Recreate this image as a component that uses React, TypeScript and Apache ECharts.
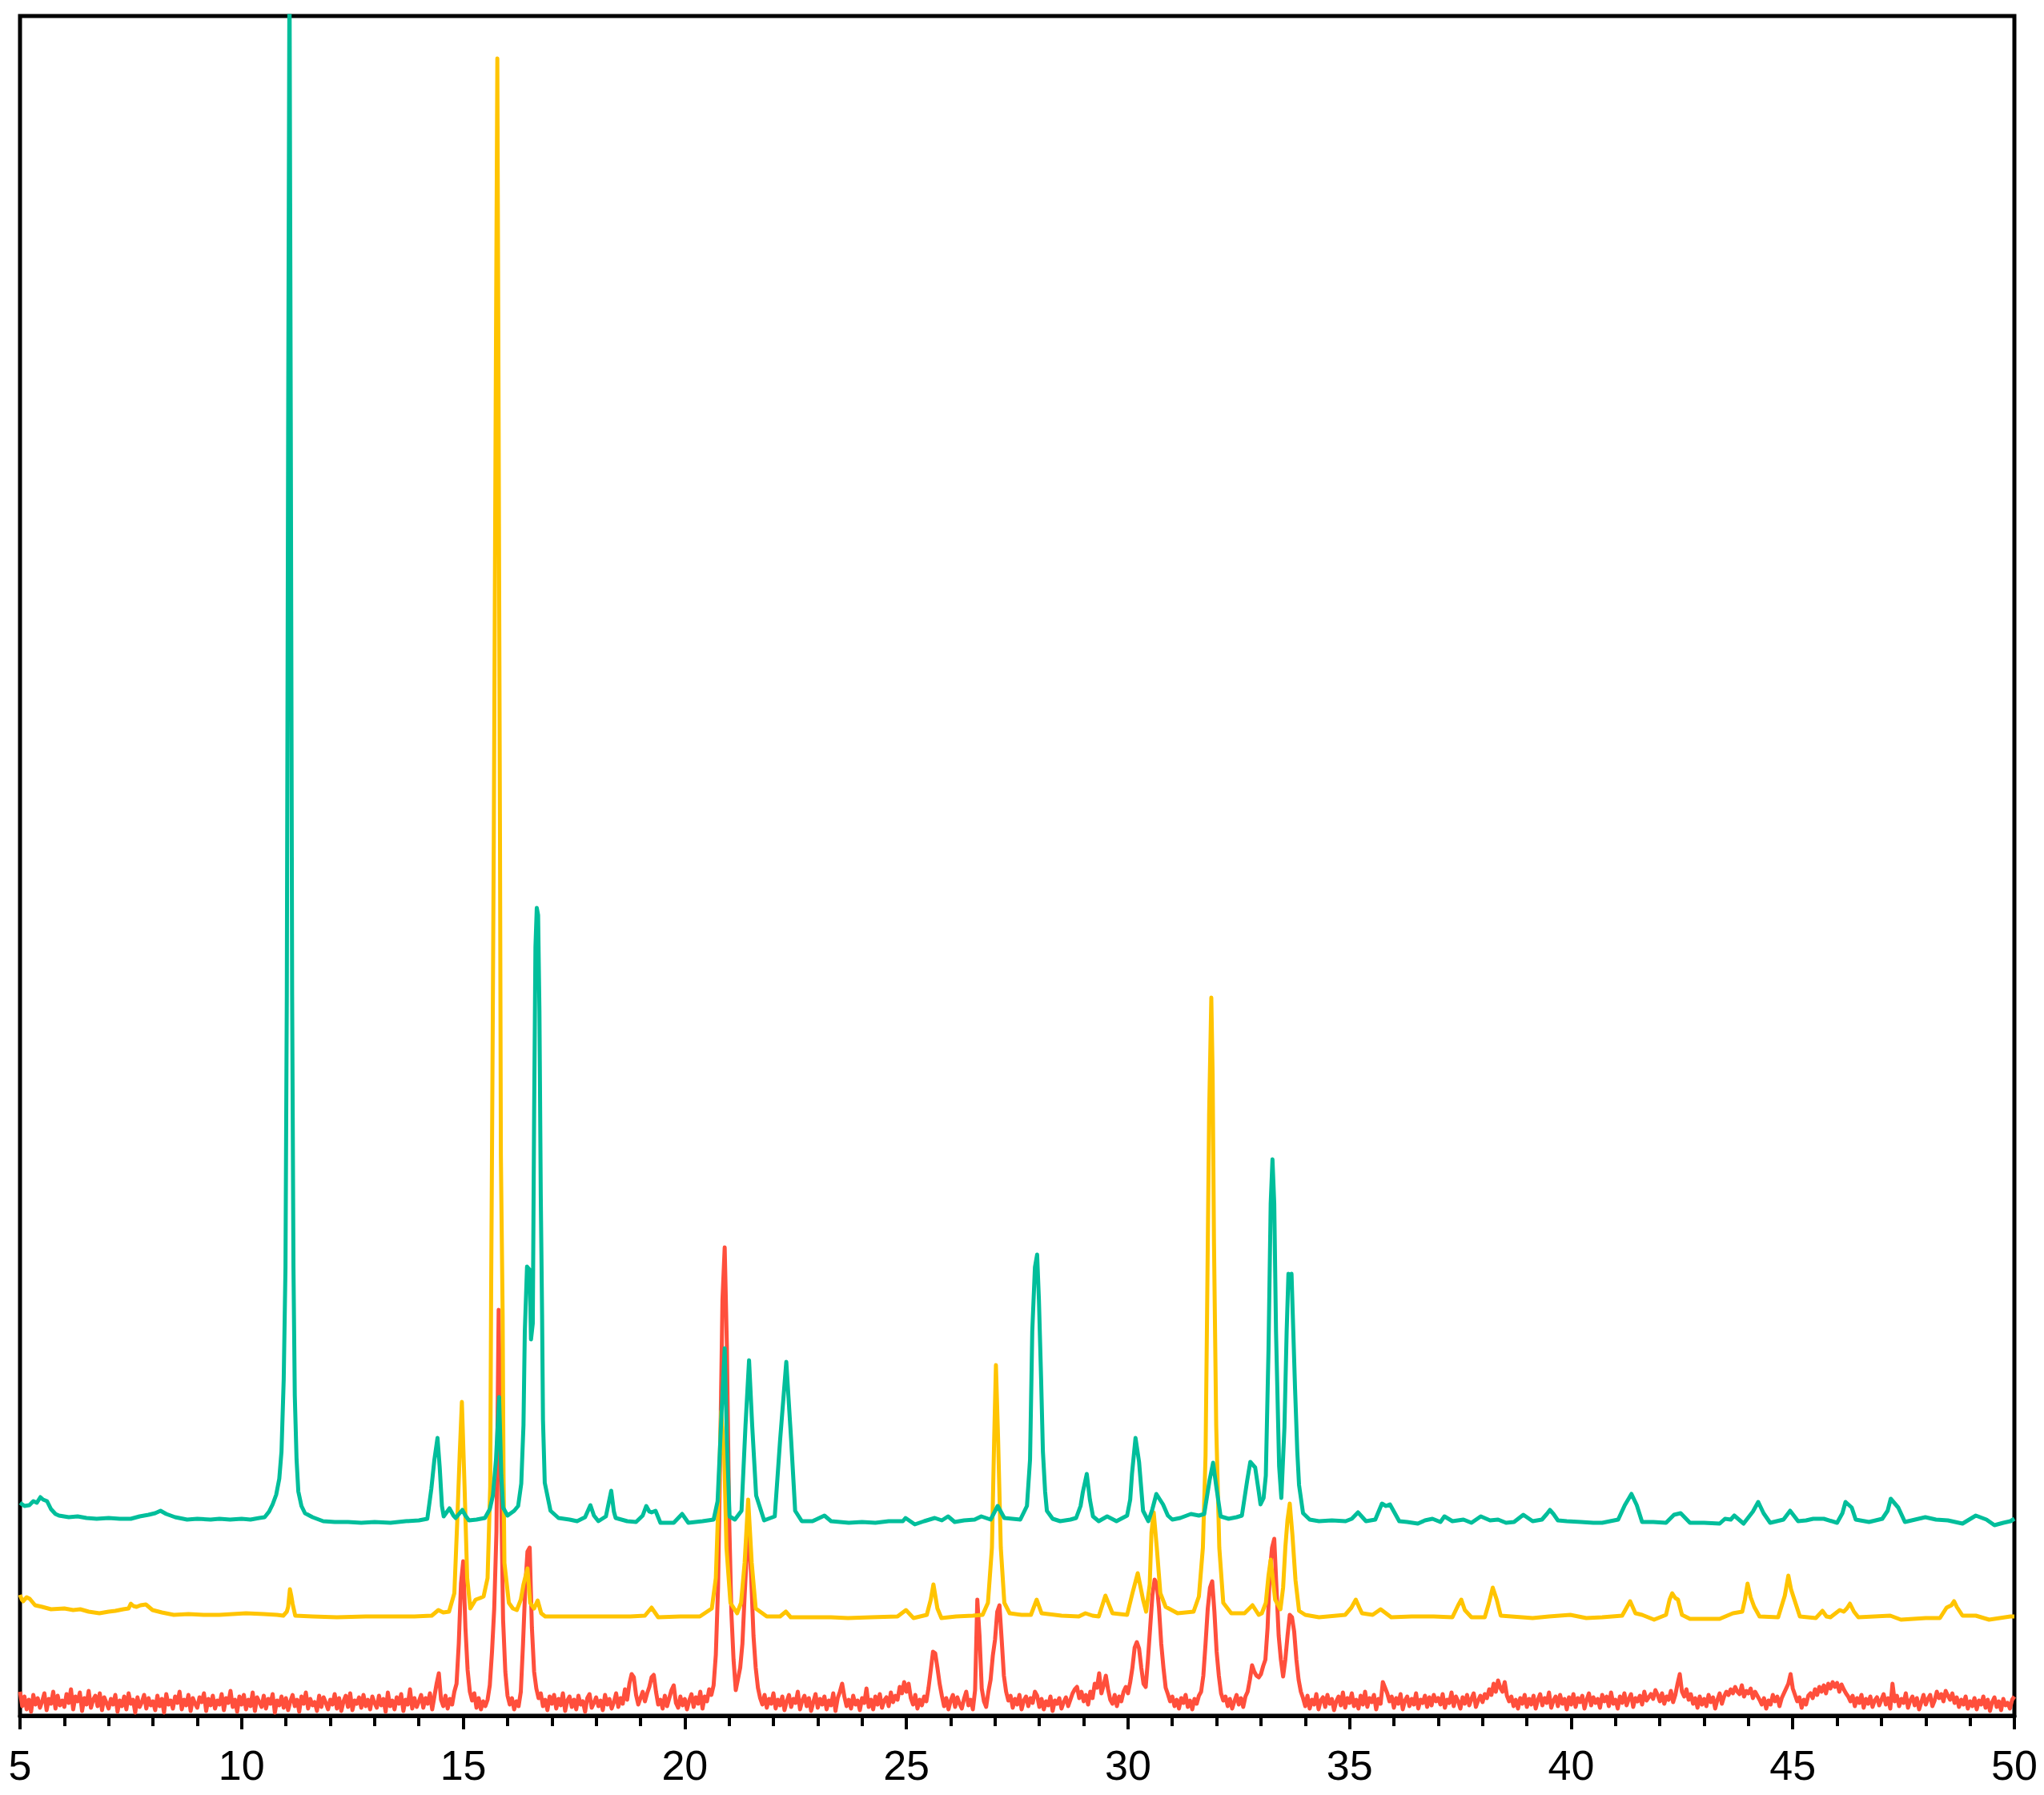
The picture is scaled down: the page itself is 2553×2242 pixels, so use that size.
import React, { useEffect, useRef } from "react";
import * as echarts from "echarts";

// X axis (2θ, degrees)
const X_MIN = 5;
const X_MAX = 50;
const X_INTERVAL = 5;

// Intensity scale (arbitrary units, offset patterns)
const Y_MAX = 2123;

// Green pattern: [2θ, intensity]
const greenPattern: [number, number][] = [
  [5.0,266],[5.1,262],[5.21,263],[5.3,268],[5.38,266],[5.46,273],[5.52,270],[5.61,268],[5.7,258],[5.8,252],[5.88,250],[6.1,248],[6.3,249],[6.5,247],[6.73,246],[7.0,247],[7.25,246],[7.5,246],[7.7,249],[7.9,251],[8.05,253],[8.17,256],[8.3,252],[8.5,248],[8.77,245],[9.0,246],[9.3,245],[9.5,246],[9.74,245],[10.0,246],[10.2,245],[10.4,247],[10.52,248],[10.62,255],[10.7,264],[10.78,276],[10.85,296],[10.9,330],[10.95,420],[10.99,560],[11.02,900],[11.05,1600],[11.08,2200],[11.11,1600],[11.14,900],[11.17,560],[11.2,400],[11.24,320],[11.28,280],[11.35,262],[11.43,253],[11.6,248],[11.84,243],[12.1,242],[12.4,242],[12.7,241],[13.0,242],[13.36,241],[13.7,243],[14.0,244],[14.19,246],[14.28,283],[14.35,320],[14.42,347],[14.47,310],[14.52,262],[14.56,249],[14.69,259],[14.78,250],[14.83,247],[14.98,257],[15.05,250],[15.13,244],[15.3,245],[15.49,247],[15.6,258],[15.67,275],[15.74,320],[15.81,398],[15.86,300],[15.9,260],[16.0,250],[16.15,256],[16.24,262],[16.31,290],[16.36,363],[16.39,480],[16.44,561],[16.5,557],[16.53,470],[16.57,490],[16.6,750],[16.63,960],[16.66,1009],[16.69,1000],[16.72,880],[16.75,650],[16.78,500],[16.8,370],[16.84,291],[16.97,256],[17.15,247],[17.4,245],[17.57,243],[17.75,248],[17.87,263],[17.95,250],[18.05,243],[18.22,249],[18.34,281],[18.4,255],[18.44,247],[18.7,243],[18.9,242],[19.05,250],[19.13,262],[19.2,255],[19.25,254],[19.34,256],[19.45,241],[19.75,241],[19.94,252],[20.08,241],[20.4,243],[20.65,245],[20.74,268],[20.83,379],[20.9,459],[20.95,344],[21.01,249],[21.13,245],[21.28,256],[21.37,363],[21.45,444],[21.52,363],[21.61,275],[21.79,244],[22.03,249],[22.15,344],[22.29,442],[22.4,344],[22.49,256],[22.64,243],[22.88,243],[23.15,250],[23.3,243],[23.7,241],[24.0,242],[24.3,241],[24.6,243],[24.92,243],[24.98,247],[25.19,239],[25.4,243],[25.64,247],[25.8,244],[25.94,249],[26.09,242],[26.3,244],[26.54,245],[26.69,249],[26.9,245],[27.06,262],[27.21,247],[27.57,245],[27.72,262],[27.79,320],[27.84,480],[27.9,560],[27.95,576],[27.99,520],[28.04,420],[28.08,330],[28.13,280],[28.17,256],[28.3,246],[28.47,243],[28.7,245],[28.83,247],[28.93,262],[28.98,279],[29.07,302],[29.14,270],[29.21,249],[29.34,243],[29.53,249],[29.74,243],[29.98,250],[30.05,270],[30.09,302],[30.17,347],[30.25,317],[30.34,256],[30.46,243],[30.55,258],[30.64,277],[30.72,270],[30.79,264],[30.9,250],[31.0,245],[31.18,247],[31.42,252],[31.6,250],[31.72,252],[31.84,294],[31.92,316],[31.99,287],[32.09,249],[32.27,246],[32.45,248],[32.57,250],[32.69,294],[32.76,317],[32.87,310],[32.95,280],[32.99,264],[33.06,272],[33.11,300],[33.17,456],[33.22,640],[33.26,695],[33.3,640],[33.34,480],[33.41,312],[33.46,272],[33.53,360],[33.58,480],[33.62,552],[33.66,545],[33.69,552],[33.73,480],[33.77,408],[33.82,330],[33.86,288],[33.95,253],[34.1,245],[34.31,243],[34.6,244],[34.91,243],[35.05,246],[35.19,254],[35.37,243],[35.58,245],[35.73,265],[35.82,262],[35.91,264],[36.12,243],[36.3,242],[36.54,240],[36.7,244],[36.87,246],[37.05,242],[37.14,249],[37.32,243],[37.57,245],[37.75,241],[37.96,249],[38.17,244],[38.35,245],[38.53,241],[38.71,242],[38.92,251],[39.13,243],[39.34,245],[39.45,252],[39.52,257],[39.6,252],[39.7,244],[39.9,243],[40.22,242],[40.5,241],[40.7,241],[41.06,245],[41.21,263],[41.36,277],[41.48,263],[41.6,242],[41.85,242],[42.14,241],[42.32,251],[42.47,253],[42.68,241],[43.0,241],[43.35,240],[43.47,246],[43.6,245],[43.68,250],[43.89,240],[44.1,255],[44.22,267],[44.34,253],[44.49,241],[44.79,245],[44.94,256],[45.12,243],[45.3,244],[45.46,246],[45.7,246],[46.0,241],[46.12,253],[46.19,267],[46.33,260],[46.42,245],[46.72,242],[47.02,246],[47.14,256],[47.21,271],[47.38,260],[47.53,242],[47.99,248],[48.23,245],[48.5,244],[48.83,240],[49.13,250],[49.37,245],[49.55,238],[49.75,241],[49.91,243],[50.0,246]
];

// Yellow pattern: [2θ, intensity]
const yellowPattern: [number, number][] = [
  [5.0,151],[5.04,145],[5.07,143],[5.15,148],[5.22,146],[5.34,138],[5.5,136],[5.7,133],[6.0,134],[6.2,132],[6.36,133],[6.55,130],[6.79,128],[7.0,130],[7.15,131],[7.33,133],[7.45,134],[7.5,140],[7.56,137],[7.63,136],[7.72,138],[7.84,139],[7.99,132],[8.2,129],[8.47,126],[8.8,127],[9.14,126],[9.5,126],[9.8,127],[10.1,128],[10.5,127],[10.8,126],[10.94,125],[11.02,130],[11.05,136],[11.09,158],[11.12,150],[11.15,140],[11.21,125],[11.6,124],[12.15,123],[12.8,124],[13.35,124],[13.9,124],[14.29,125],[14.44,132],[14.55,129],[14.68,130],[14.8,153],[14.87,249],[14.92,325],[14.97,392],[15.03,287],[15.09,172],[15.16,134],[15.28,145],[15.38,147],[15.46,149],[15.55,172],[15.61,287],[15.63,526],[15.66,800],[15.69,1093],[15.73,1600],[15.77,2070],[15.8,1600],[15.83,1093],[15.85,700],[15.89,500],[15.91,300],[15.93,191],[16.03,141],[16.12,134],[16.21,132],[16.3,145],[16.36,164],[16.45,184],[16.51,141],[16.6,134],[16.68,144],[16.76,128],[16.85,124],[17.3,124],[17.8,124],[18.3,124],[18.77,124],[19.1,125],[19.25,135],[19.4,123],[19.9,124],[20.34,124],[20.61,134],[20.7,172],[20.77,287],[20.82,380],[20.89,325],[20.94,210],[21.03,141],[21.18,128],[21.27,141],[21.35,191],[21.43,270],[21.51,191],[21.6,134],[21.85,124],[22.15,124],[22.28,130],[22.39,123],[22.9,123],[23.3,123],[23.68,122],[24.2,123],[24.8,124],[24.99,132],[25.16,122],[25.46,126],[25.55,145],[25.61,164],[25.7,134],[25.79,122],[26.12,124],[26.5,125],[26.72,126],[26.84,141],[26.93,210],[26.98,344],[27.02,438],[27.07,344],[27.13,210],[27.21,141],[27.33,128],[27.6,126],[27.81,126],[27.94,145],[28.05,128],[28.5,125],[28.89,124],[29.04,128],[29.2,125],[29.34,124],[29.49,150],[29.65,128],[29.98,126],[30.1,153],[30.22,178],[30.34,145],[30.41,130],[30.49,164],[30.53,229],[30.58,254],[30.65,210],[30.73,153],[30.85,136],[31.12,128],[31.48,130],[31.6,149],[31.69,210],[31.75,325],[31.78,478],[31.83,750],[31.88,897],[31.91,800],[31.94,593],[31.99,363],[32.06,210],[32.15,141],[32.33,128],[32.63,128],[32.81,138],[32.95,126],[33.02,128],[33.11,141],[33.17,175],[33.22,195],[33.27,170],[33.32,145],[33.44,133],[33.5,160],[33.55,210],[33.6,245],[33.65,265],[33.71,226],[33.78,169],[33.86,131],[34.0,126],[34.31,123],[34.9,126],[35.04,135],[35.14,145],[35.22,135],[35.28,128],[35.52,126],[35.7,133],[35.94,123],[36.4,124],[36.9,124],[37.32,123],[37.45,138],[37.52,145],[37.6,132],[37.75,123],[38.05,123],[38.14,140],[38.23,160],[38.32,145],[38.41,125],[39.13,122],[39.5,124],[39.98,126],[40.34,122],[40.7,123],[41.15,125],[41.33,143],[41.45,128],[41.6,126],[41.87,120],[42.14,126],[42.22,145],[42.28,153],[42.35,147],[42.41,145],[42.5,126],[42.68,121],[43.35,121],[43.65,128],[43.86,130],[43.92,145],[43.98,165],[44.05,148],[44.13,136],[44.25,124],[44.67,123],[44.82,150],[44.9,175],[44.96,158],[45.03,146],[45.16,124],[45.52,122],[45.67,131],[45.76,124],[45.85,123],[46.06,132],[46.15,130],[46.22,134],[46.29,140],[46.38,130],[46.48,123],[47.2,125],[47.44,120],[48.0,122],[48.32,122],[48.47,135],[48.58,138],[48.64,143],[48.7,136],[48.83,125],[49.13,125],[49.43,120],[49.91,124],[50.0,124]
];

// Red pattern: scan from 5.00° in 0.05° steps, one row per degree
const RED_START = 5;
const RED_STEP = 0.05;
const redIntensity: number[] = [
  30,12,24,8,20,5,26,14,22,10,18,28,7,21,15,30,9,25,13,19,
  11,27,16,33,8,24,18,29,6,22,14,31,10,20,25,12,28,7,23,16,
  9,21,14,26,5,19,12,24,8,28,15,20,4,23,11,17,26,9,22,13,
  18,7,25,12,21,4,27,14,19,9,24,16,30,8,20,13,26,6,22,15,
  10,23,17,28,6,21,13,25,9,19,14,27,7,22,16,31,11,20,5,24,
  14,26,8,20,12,29,6,23,17,11,25,9,21,15,27,4,19,13,24,10,
  22,7,18,26,12,20,5,24,15,29,9,21,13,17,6,25,11,23,16,8,
  20,14,27,9,22,6,18,25,11,28,7,19,15,23,10,26,12,20,8,24,
  16,10,25,13,21,5,29,12,19,8,23,15,27,6,20,14,33,9,22,11,
  18,26,10,22,15,28,8,24,40,53,20,12,25,9,21,14,30,40,90,165,
  193,110,57,30,19,28,10,22,8,18,12,20,38,80,134,230,507,300,120,55,
  25,14,22,8,18,12,30,90,160,205,210,110,55,34,22,28,12,20,7,24,
  15,26,9,21,13,28,6,19,24,11,20,8,25,14,18,5,22,27,10,16,
  23,12,19,7,26,14,21,9,17,28,11,22,15,33,20,40,52,48,26,14,
  22,30,18,28,36,48,51,30,14,20,9,25,12,22,32,38,16,10,24,13,
  21,8,19,27,11,23,15,30,9,24,18,33,26,38,76,160,330,520,585,460,
  249,130,70,32,46,60,90,150,205,230,170,100,60,35,22,14,26,10,21,15,
  28,9,20,13,24,7,18,26,11,21,16,30,8,19,25,12,22,6,17,27,
  10,21,14,24,8,19,13,28,6,22,30,40,24,12,20,9,25,14,19,7,
  22,16,34,11,20,8,24,14,27,10,19,23,12,29,17,25,20,36,28,42,
  30,40,22,14,26,9,20,13,24,18,35,57,80,78,60,40,25,12,22,8,
  19,26,11,23,15,9,21,30,13,20,8,32,145,100,34,18,11,30,45,75,
  95,130,138,95,50,30,19,25,10,21,14,26,8,19,24,12,22,16,30,25,
  11,21,8,18,13,24,6,19,15,22,9,17,23,12,20,28,33,36,22,30,
  18,26,14,30,22,40,35,53,28,38,50,33,20,15,26,12,24,18,30,36,
  28,42,60,85,92,84,60,40,36,70,110,150,170,165,134,90,60,35,27,18,
  24,12,20,9,22,16,26,11,19,8,21,15,25,30,50,90,134,160,168,130,
  80,50,28,19,24,12,21,9,18,26,14,22,11,24,30,45,63,55,50,48,
  52,62,70,110,180,210,221,160,100,70,49,70,100,126,123,105,70,45,30,22,
  12,25,9,20,14,27,8,19,23,11,26,15,21,7,18,24,13,29,10,22,
  16,28,12,20,9,25,14,30,11,22,17,26,8,21,15,42,35,28,18,24,
  10,22,15,27,8,19,24,12,21,14,28,9,20,16,25,11,23,13,26,18,
  22,14,27,10,20,16,29,12,24,18,9,23,15,26,13,21,28,11,19,25,
  17,27,22,33,26,40,30,44,35,30,42,25,18,24,12,20,9,22,15,26,
  11,21,14,25,9,20,27,13,22,16,29,10,19,24,12,26,15,21,8,23,
  14,27,11,22,17,25,9,20,28,13,23,16,21,10,26,18,24,12,29,15,
  20,9,24,16,28,13,21,27,11,22,18,25,14,30,19,23,27,21,32,26,
  18,28,15,24,20,31,17,26,40,52,30,24,33,20,27,15,22,10,24,14,
  21,12,26,17,23,9,20,28,15,24,30,26,33,28,36,30,27,38,24,31,
  28,34,22,30,25,20,14,22,9,19,14,26,18,24,12,22,28,34,40,52,
  34,26,18,23,10,20,14,25,28,22,33,26,36,30,38,28,40,34,42,36,
  41,30,39,33,28,24,18,25,12,22,16,26,10,21,15,24,11,19,23,13,
  20,27,14,22,9,40,18,25,12,21,16,28,10,19,24,13,22,8,17,26,
  14,21,26,12,19,30,22,27,18,31,25,20,28,16,23,11,20,14,24,9,
  18,12,22,8,19,14,24,10,20,6,17,23,11,18,7,21,13,16,9,20,
  24
];

const COLORS = { green: "#00BE9B", yellow: "#FFC400", red: "#FF4F3C" };

export default function App() {
  const ref = useRef<HTMLDivElement>(null);

  useEffect(() => {
    if (!ref.current) return;
    const chart = echarts.init(ref.current, undefined, { renderer: "svg" });
    const redData = redIntensity.map((v, i) => [
      Math.round((RED_START + i * RED_STEP) * 100) / 100,
      v,
    ]);
    const lineSeries = (name: string, data: any[], color: string) => ({
      name,
      type: "line",
      data,
      showSymbol: false,
      symbol: "none",
      clip: true,
      lineStyle: { color, width: 5, join: "round" },
      itemStyle: { color },
    });
    chart.setOption({
      animation: false,
      backgroundColor: "#ffffff",
      grid: {
        left: 25,
        right: 37,
        top: 20,
        bottom: 99,
        show: true,
        borderColor: "#000",
        borderWidth: 5,
        backgroundColor: "transparent",
      },
      xAxis: {
        type: "value",
        min: X_MIN,
        max: X_MAX,
        interval: X_INTERVAL,
        axisLine: { show: true, onZero: false, lineStyle: { color: "#000", width: 5 } },
        axisTick: { show: true, length: 17, lineStyle: { color: "#000", width: 4 } },
        minorTick: { show: true, splitNumber: 5, length: 13, lineStyle: { color: "#000", width: 4 } },
        splitLine: { show: false },
        minorSplitLine: { show: false },
        axisLabel: {
          fontSize: 52,
          color: "#000",
          fontFamily: "'Liberation Sans', Arial, sans-serif",
          margin: 36,
        },
      },
      yAxis: { type: "value", min: 0, max: Y_MAX, show: false },
      series: [
        lineSeries("red", redData, COLORS.red),
        lineSeries("yellow", yellowPattern, COLORS.yellow),
        lineSeries("green", greenPattern, COLORS.green),
      ],
    });
    return () => chart.dispose();
  }, []);

  return (
    <div
      ref={ref}
      style={{ position: "absolute", left: 0, top: 0, width: 2553, height: 2242, background: "#fff" }}
    />
  );
}
